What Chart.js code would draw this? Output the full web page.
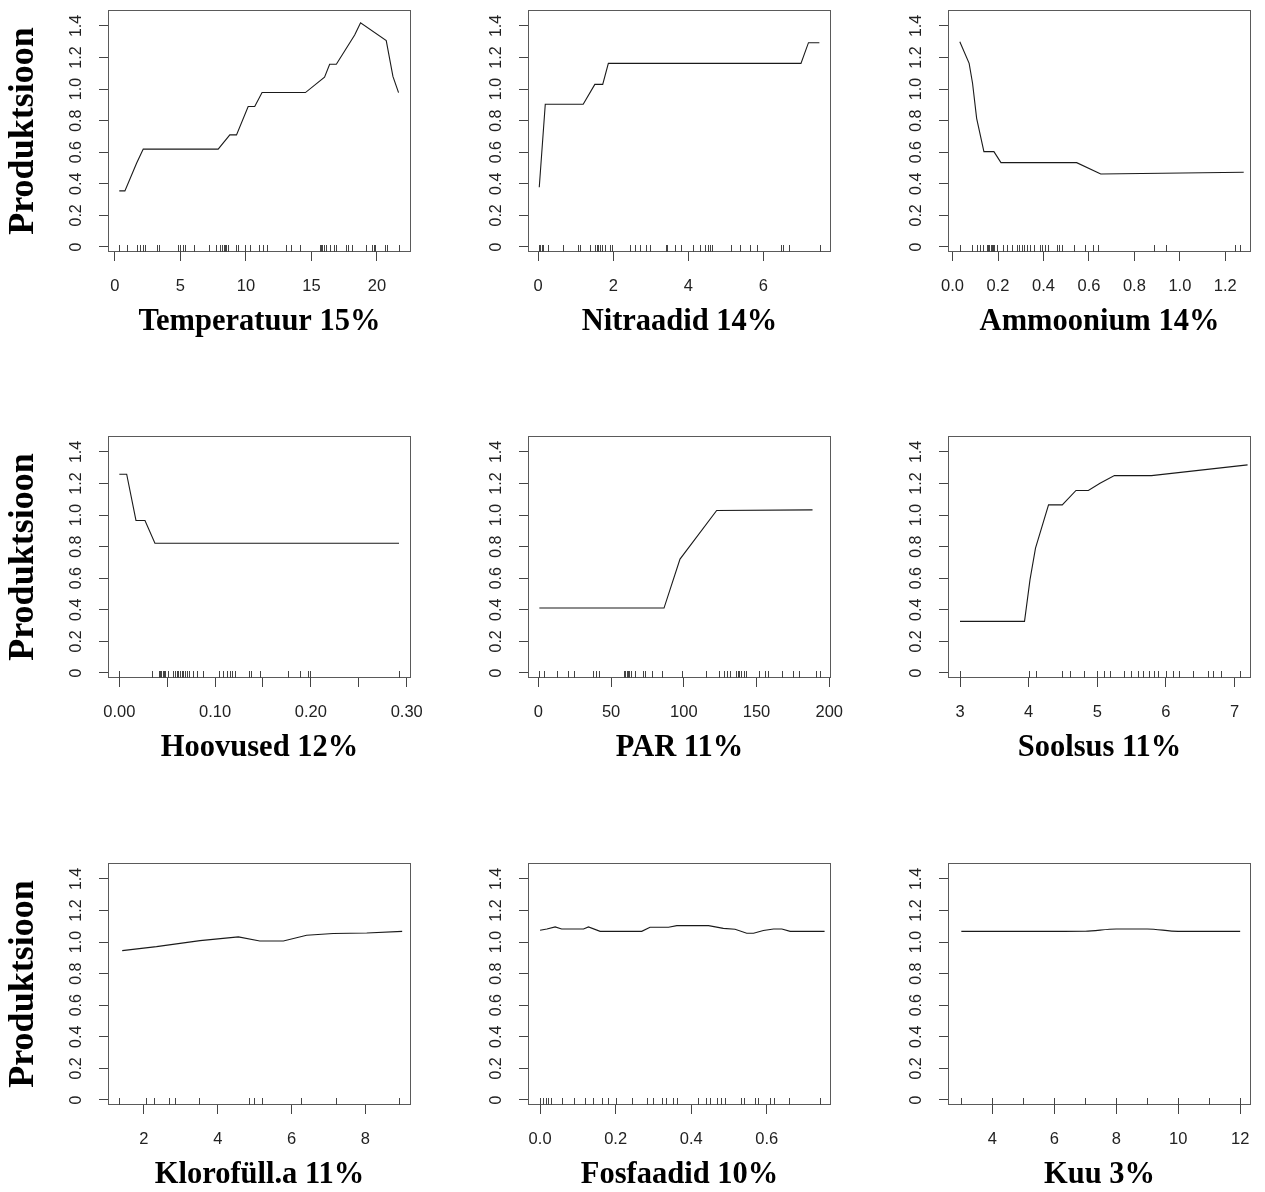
<!DOCTYPE html>
<html><head><meta charset="utf-8">
<script src="https://cdn.jsdelivr.net/npm/chart.js@4/dist/chart.umd.min.js"></script>
<style>
html,body{margin:0;padding:0;background:#fff;width:1265px;height:1192px;overflow:hidden;}
.p{position:absolute;}
</style></head><body>
<script>
// ---------- data ----------
const yLabelText = 'Produktsioon';
const yTicks = [0, 0.2, 0.4, 0.6, 0.8, 1.0, 1.2, 1.4];
const yTickLabels = ['0', '0.2', '0.4', '0.6', '0.8', '1.0', '1.2', '1.4'];

const titles = ['Temperatuur 15%', 'Nitraadid 14%', 'Ammoonium 14%', 'Hoovused 12%', 'PAR 11%', 'Soolsus 11%', 'Klorofüll.a 11%', 'Fosfaadid 10%', 'Kuu 3%'];

const tempX = [0.33, 0.76, 1.65, 2.16, 7.88, 8.77, 9.28, 10.17, 10.67, 11.23, 14.54, 16.0, 16.39, 16.9, 18.3, 18.75, 20.71, 21.22, 21.65];
const tempY = [0.355, 0.355, 0.53, 0.62, 0.62, 0.71, 0.71, 0.89, 0.89, 0.978, 0.978, 1.075, 1.157, 1.157, 1.343, 1.42, 1.307, 1.08, 0.978];
const tempRug = [0.33, 0.89, 1.65, 1.91, 2.11, 2.29, 3.18, 3.38, 4.83, 4.96, 5.16, 5.36, 6.02, 7.19, 7.75, 8.01, 8.21, 8.31, 8.41, 8.51, 8.62, 9.22, 9.40, 9.91, 10.29, 11.0, 11.31, 11.61, 13.04, 13.47, 14.10, 15.63, 15.76, 15.83, 15.93, 16.09, 16.39, 16.72, 16.85, 17.61, 17.79, 18.12, 19.19, 19.64, 19.75, 19.85, 20.58, 20.79, 21.65];
const tempTicks = [0, 5, 10, 15, 20];
const tempTickLabels = ['0', '5', '10', '15', '20'];

const nitX = [0.03, 0.19, 1.2, 1.51, 1.72, 1.87, 7.0, 7.2, 7.49];
const nitY = [0.378, 0.904, 0.904, 1.03, 1.03, 1.163, 1.163, 1.294, 1.294];
const nitRug = [0.03, 0.06, 0.10, 0.13, 0.26, 0.67, 1.06, 1.11, 1.38, 1.51, 1.56, 1.6, 1.64, 1.69, 1.78, 1.91, 1.97, 2.44, 2.58, 2.71, 2.87, 2.98, 3.4, 3.44, 3.64, 3.8, 4.12, 4.31, 4.44, 4.53, 4.58, 4.62, 5.13, 5.38, 5.63, 5.84, 6.46, 6.53, 6.69, 7.51];
const nitTicks = [0, 2, 4, 6];
const nitTickLabels = ['0', '2', '4', '6'];

const ammX = [0.032, 0.073, 0.088, 0.106, 0.138, 0.182, 0.213, 0.546, 0.652, 1.281];
const ammY = [1.30, 1.163, 1.037, 0.815, 0.604, 0.604, 0.534, 0.534, 0.462, 0.473];
const ammRug = [0.032, 0.084, 0.109, 0.12, 0.132, 0.15, 0.157, 0.162, 0.167, 0.172, 0.176, 0.182, 0.194, 0.223, 0.238, 0.26, 0.282, 0.292, 0.304, 0.316, 0.329, 0.341, 0.358, 0.385, 0.392, 0.407, 0.422, 0.461, 0.47, 0.48, 0.536, 0.583, 0.62, 0.642, 0.887, 0.94, 1.241, 1.266];
const ammTicks = [0, 0.2, 0.4, 0.6, 0.8, 1.0, 1.2];
const ammTickLabels = ['0.0', '0.2', '0.4', '0.6', '0.8', '1.0', '1.2'];

const hooX = [0, 0.0077, 0.0174, 0.0268, 0.0372, 0.292];
const hooY = [1.259, 1.259, 0.966, 0.966, 0.822, 0.822];
const hooRug = [0, 0.0338, 0.0411, 0.0425, 0.0439, 0.0452, 0.0466, 0.048, 0.0512, 0.0564, 0.0581, 0.0599, 0.0616, 0.0633, 0.0651, 0.0668, 0.0686, 0.071, 0.0731, 0.0766, 0.0814, 0.0877, 0.1044, 0.1086, 0.1121, 0.1156, 0.1173, 0.1211, 0.1357, 0.1371, 0.1469, 0.1765, 0.1887, 0.1974, 0.1991, 0.292];
const hooTicks = [0, 0.05, 0.10, 0.15, 0.20, 0.25, 0.30];
const hooTickLabels = ['0.00', '', '0.10', '', '0.20', '', '0.30'];

const parX = [0.7, 86.4, 97.4, 122.6, 188.5];
const parY = [0.411, 0.411, 0.721, 1.029, 1.033];
const parRug = [0.7, 3.9, 12.6, 20.6, 24.5, 37.8, 39.4, 41.7, 58.9, 59.8, 60.7, 61.6, 62.5, 63.5, 66.4, 71.7, 73.5, 78.4, 85, 98.5, 115, 124.2, 127.6, 129.4, 131.7, 135.6, 137, 138.1, 139.3, 141.4, 142.7, 151.9, 155.8, 158.1, 167.7, 175.3, 179.2, 190.8, 193.6];
const parTicks = [0, 50, 100, 150, 200];
const parTickLabels = ['0', '50', '100', '150', '200'];

const solX = [3.0, 3.94, 4.02, 4.10, 4.29, 4.49, 4.69, 4.87, 5.04, 5.25, 5.79, 7.19];
const solY = [0.327, 0.327, 0.591, 0.791, 1.065, 1.065, 1.156, 1.156, 1.202, 1.25, 1.25, 1.318];
const solRug = [3.0, 4.01, 4.1, 4.49, 4.6, 4.81, 4.99, 5.1, 5.19, 5.39, 5.49, 5.59, 5.67, 5.75, 5.82, 5.89, 6.0, 6.1, 6.19, 6.39, 6.61, 6.68, 6.81, 7.08];
const solTicks = [3, 4, 5, 6, 7];
const solTickLabels = ['3', '4', '5', '6', '7'];

const chlX = [1.41, 2.34, 3.52, 4.56, 5.14, 5.78, 6.41, 7.13, 8.04, 9.0];
const chlY = [0.946, 0.971, 1.009, 1.033, 1.007, 1.007, 1.043, 1.054, 1.058, 1.068];
const chlRug = [1.33, 2.05, 2.27, 2.69, 2.84, 3.5, 4.86, 4.99, 5.19, 6.27, 7.2, 8.92];
const chlTicks = [2, 4, 6, 8];
const chlTickLabels = ['2', '4', '6', '8'];

const fosX = [0, 0.018, 0.04, 0.057, 0.115, 0.128, 0.159, 0.269, 0.291, 0.34, 0.362, 0.446, 0.485, 0.516, 0.547, 0.565, 0.591, 0.618, 0.64, 0.662, 0.753];
const fosY = [1.075, 1.083, 1.096, 1.083, 1.083, 1.096, 1.068, 1.068, 1.094, 1.094, 1.104, 1.104, 1.087, 1.081, 1.056, 1.056, 1.073, 1.083, 1.083, 1.068, 1.068];
const fosRug = [0, 0.009, 0.016, 0.022, 0.029, 0.057, 0.091, 0.119, 0.141, 0.163, 0.181, 0.201, 0.243, 0.282, 0.3, 0.322, 0.334, 0.351, 0.362, 0.419, 0.439, 0.45, 0.468, 0.479, 0.49, 0.531, 0.54, 0.569, 0.578, 0.609, 0.62, 0.66, 0.741];
const fosTicks = [0, 0.2, 0.4, 0.6];
const fosTickLabels = ['0.0', '0.2', '0.4', '0.6'];

const kuuX = [3, 4, 5, 6, 7, 8, 9, 10, 11, 12];
const kuuY = [1.068, 1.068, 1.068, 1.068, 1.069, 1.083, 1.083, 1.068, 1.068, 1.068];
const kuuRug = [3, 4, 5, 6, 7, 8, 9, 10, 11, 12];
const kuuTicks = [4, 6, 8, 10, 12];
const kuuTickLabels = ['4', '6', '8', '10', '12'];

// ---------- panels ----------
const panels = [
  {x: tempX, y: tempY, rug: tempRug, ticks: tempTicks, labels: tempTickLabels, range: [-0.53, 22.6]},
  {x: nitX, y: nitY, rug: nitRug, ticks: nitTicks, labels: nitTickLabels, range: [-0.27, 7.8]},
  {x: ammX, y: ammY, rug: ammRug, ticks: ammTicks, labels: ammTickLabels, range: [-0.02, 1.313]},
  {x: hooX, y: hooY, rug: hooRug, ticks: hooTicks, labels: hooTickLabels, range: [-0.0118, 0.3045]},
  {x: parX, y: parY, rug: parRug, ticks: parTicks, labels: parTickLabels, range: [-7.1, 201.2]},
  {x: solX, y: solY, rug: solRug, ticks: solTicks, labels: solTickLabels, range: [2.825, 7.24]},
  {x: chlX, y: chlY, rug: chlRug, ticks: chlTicks, labels: chlTickLabels, range: [1.025, 9.24]},
  {x: fosX, y: fosY, rug: fosRug, ticks: fosTicks, labels: fosTickLabels, range: [-0.032, 0.77]},
  {x: kuuX, y: kuuY, rug: kuuRug, ticks: kuuTicks, labels: kuuTickLabels, range: [2.57, 12.35], smooth: true}
];

const colLeft = [0, 420, 840];
const rowTop = [0, 426, 853];
const W = 425, H = 343;
const sans = '"Liberation Sans", Arial, Helvetica, sans-serif';
const serif = '"Liberation Serif", "Times New Roman", serif';

function framePlugin(rug) {
  return {
    id: 'frame',
    afterDatasetsDraw(chart) {
      const {ctx, chartArea: a, scales} = chart;
      const xs = scales.x;
      ctx.save();
      ctx.strokeStyle = '#5a5a5a';
      ctx.lineWidth = 1;
      ctx.strokeRect(Math.round(a.left) + 0.5, Math.round(a.top) + 0.5, Math.round(a.right - a.left) - 1, Math.round(a.bottom - a.top) - 1);
      ctx.strokeStyle = '#444';
      ctx.beginPath();
      for (const v of rug) {
        const px = Math.round(xs.getPixelForValue(v)) + 0.5;
        ctx.moveTo(px, a.bottom);
        ctx.lineTo(px, a.bottom - 7);
      }
      ctx.stroke();
      ctx.restore();
    }
  };
}

panels.forEach((p, i) => {
  const col = i % 3, row = Math.floor(i / 3);
  const div = document.createElement('div');
  div.className = 'p';
  div.style.left = colLeft[col] + 'px';
  div.style.top = rowTop[row] + 'px';
  div.style.width = W + 'px';
  div.style.height = H + 'px';
  const cv = document.createElement('canvas');
  cv.width = W; cv.height = H;
  cv.style.width = W + 'px'; cv.style.height = H + 'px';
  div.appendChild(cv);
  document.body.appendChild(div);

  new Chart(cv, {
    type: 'line',
    data: {
      datasets: [{
        data: p.x.map((v, k) => ({x: v, y: p.y[k]})),
        borderColor: '#1a1a1a',
        borderWidth: 1.1,
        pointRadius: 0,
        fill: false,
        tension: 0,
        cubicInterpolationMode: p.smooth ? 'monotone' : 'default'
      }]
    },
    options: {
      responsive: false,
      animation: false,
      devicePixelRatio: 1,
      layout: {padding: {top: 10, right: 14, left: 0, bottom: 0}},
      plugins: {legend: {display: false}, tooltip: {enabled: false}},
      scales: {
        x: {
          type: 'linear',
          min: p.range[0], max: p.range[1],
          afterBuildTicks: s => { s.ticks = p.ticks.map(v => ({value: v})); },
          afterFit: s => { s.height = 91; s.paddingLeft = 0; s.paddingRight = 0; },
          ticks: {
            autoSkip: false, maxRotation: 0, minRotation: 0, padding: 16,
            color: '#222', font: {family: sans, size: 16.5},
            callback: (v, k) => p.labels[k]
          },
          grid: {drawOnChartArea: false, drawTicks: true, tickLength: 9, color: '#444', tickColor: '#444', lineWidth: 1},
          border: {display: false},
          title: {
            display: true, text: titles[i], color: '#000',
            font: {family: serif, weight: 'bold', size: 30.5, lineHeight: 1.2},
            padding: {top: 0, bottom: 3}
          }
        },
        y: {
          type: 'linear',
          min: -0.032, max: 1.501,
          afterBuildTicks: s => { s.ticks = yTicks.map(v => ({value: v})); },
          afterFit: s => { s.width = 108; s.paddingTop = 0; s.paddingBottom = 0; },
          ticks: {
            autoSkip: false, minRotation: 90, maxRotation: 90, crossAlign: 'center', padding: 11,
            color: '#222', font: {family: sans, size: 16},
            callback: (v, k) => yTickLabels[k]
          },
          grid: {drawOnChartArea: false, drawTicks: true, tickLength: 9, color: '#444', tickColor: '#444', lineWidth: 1},
          border: {display: false},
          title: {
            display: col === 0, text: yLabelText, color: '#000',
            font: {family: serif, weight: 'bold', size: 36, lineHeight: 1.2},
            padding: {top: 2, bottom: 0}
          }
        }
      }
    },
    plugins: [framePlugin(p.rug)]
  });
});
</script>
</body></html>
